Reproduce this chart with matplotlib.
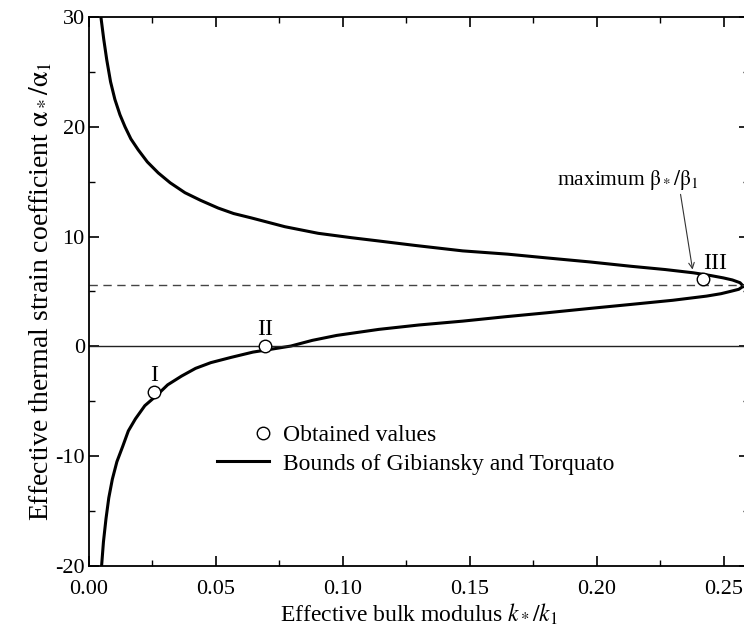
import numpy as np
import matplotlib
matplotlib.use("Agg")
import matplotlib.pyplot as plt
from matplotlib.ticker import MultipleLocator
from matplotlib.legend_handler import HandlerLine2DCompound

plt.rcParams['font.family'] = ['Liberation Serif', 'DejaVu Serif']
plt.rcParams['mathtext.fontset'] = 'stix'
plt.rcParams['axes.unicode_minus'] = False

# upper bound branch (k*/k1, alpha*/alpha1)
k_upper = [0.0047, 0.0058, 0.0070, 0.0085, 0.0102, 0.0122, 0.0142, 0.0165,
           0.0194, 0.0230, 0.0273, 0.0320, 0.0378, 0.0440, 0.0509, 0.0570,
           0.0640, 0.0772, 0.0903, 0.1034, 0.1142, 0.1283, 0.1472, 0.1650,
           0.1803, 0.1970, 0.2134, 0.2270, 0.2382, 0.2450, 0.2499, 0.2535,
           0.2565, 0.2578]
a_upper = [30.0, 28.0, 26.1, 24.1, 22.5, 21.1, 20.0, 18.9,
           17.9, 16.8, 15.8, 14.9, 14.0, 13.3, 12.6, 12.1,
           11.7, 10.9, 10.3, 9.9, 9.6, 9.2, 8.7, 8.4,
           8.06, 7.7, 7.3, 7.0, 6.7, 6.45, 6.24, 6.05,
           5.8, 5.48]

# lower bound branch
k_lower = [0.2578, 0.2560, 0.2531, 0.2490, 0.2433, 0.2300, 0.2134, 0.1970,
           0.1803, 0.1640, 0.1472, 0.1300, 0.1142, 0.0976, 0.0880, 0.0795,
           0.0720, 0.0646, 0.0560, 0.0480, 0.0420, 0.0365, 0.0310, 0.0265,
           0.0220, 0.0183, 0.0155, 0.0133, 0.0110, 0.0092, 0.0078, 0.0067,
           0.0057, 0.0050]
a_lower = [5.48, 5.2, 5.03, 4.8, 4.58, 4.2, 3.82, 3.45,
           3.06, 2.7, 2.3, 1.95, 1.55, 1.0, 0.55, 0.03,
           -0.25, -0.52, -1.0, -1.48, -2.0, -2.7, -3.5, -4.5,
           -5.4, -6.6, -7.7, -9.1, -10.5, -12.1, -13.8, -15.7,
           -17.8, -19.9]

# obtained values
k_obt = [0.0257, 0.0692, 0.2419]
a_obt = [-4.15, 0.03, 6.15]
obt_labels = ['I', 'II', 'III']
label_offsets = [(0.0, 1.5), (0.0, 1.5), (0.0046, 1.4)]

max_ratio = 5.55


class RightMarkerHandler(HandlerLine2DCompound):
    # put the legend marker at the right end of the handle, as in the original
    def get_xdata(self, legend, xdescent, ydescent, width, height, fontsize):
        xdata = np.array([-xdescent, -xdescent + width])
        xmark = np.array([-xdescent + width - 0.25 * fontsize])
        return xdata, xmark


fig = plt.figure(figsize=(7.44, 6.35), dpi=100)
ax = fig.add_axes([0.1196, 0.1087, 0.887, 0.8645])

ax.plot(k_upper, a_upper, color='black', lw=2.2, label='Bounds of Gibiansky and Torquato')
ax.plot(k_lower, a_lower, color='black', lw=2.2)
obt, = ax.plot(k_obt, a_obt, 'o', mfc='white', mec='black', ms=9, mew=1.0, ls='none',
               label='Obtained values', zorder=5)

ax.axhline(0, color='#222222', lw=1.0)
ax.axhline(max_ratio, color='#444444', lw=1.0, ls=(0, (6, 4)))

for k, a, t, (dx, dy) in zip(k_obt, a_obt, obt_labels, label_offsets):
    ax.text(k + dx, a + dy, t, ha='center', va='center', fontsize=17)

ax.annotate(r'maximum $\mathrm{\beta_*/\beta_1}$', xy=(0.2378, 7.0), xytext=(0.1844, 14.1),
            fontsize=15.5, ha='left', va='bottom',
            arrowprops=dict(arrowstyle='->', color='#333333', lw=0.8,
                            shrinkA=0, shrinkB=0, mutation_scale=10,
                            relpos=(0.87, 0.0)))

ax.set_xlim(0, 0.26)
ax.set_ylim(-20, 30)
ax.xaxis.set_major_locator(MultipleLocator(0.05))
ax.xaxis.set_minor_locator(MultipleLocator(0.025))
ax.yaxis.set_major_locator(MultipleLocator(10))
ax.yaxis.set_minor_locator(MultipleLocator(5))
ax.xaxis.set_major_formatter(plt.FuncFormatter(lambda v, p: f'{v:.2f}'))
ax.tick_params(which='both', direction='in', top=True, right=True, labelsize=16)
ax.tick_params(axis='x', pad=10)
ax.tick_params(axis='y', pad=3)
ax.tick_params(which='major', length=7, width=1.2)
ax.tick_params(which='minor', length=4, width=1.0)
for s in ax.spines.values():
    s.set_linewidth(1.3)

ax.set_xlabel(r'Effective bulk modulus $k_*/k_1$', fontsize=17, labelpad=2)
ax.set_ylabel(r'Effective thermal strain coefficient $\mathrm{\alpha_*/\alpha_1}$',
              fontsize=20, labelpad=1)

handles, labels = ax.get_legend_handles_labels()
ax.legend(handles[::-1], labels[::-1], loc='upper left', bbox_to_anchor=(0.18, 0.275),
          frameon=False, fontsize=17, handlelength=2.2, handletextpad=0.6,
          labelspacing=0.3, borderaxespad=0, numpoints=1,
          handler_map={obt: RightMarkerHandler()})

fig.savefig('out.png', dpi=100)
